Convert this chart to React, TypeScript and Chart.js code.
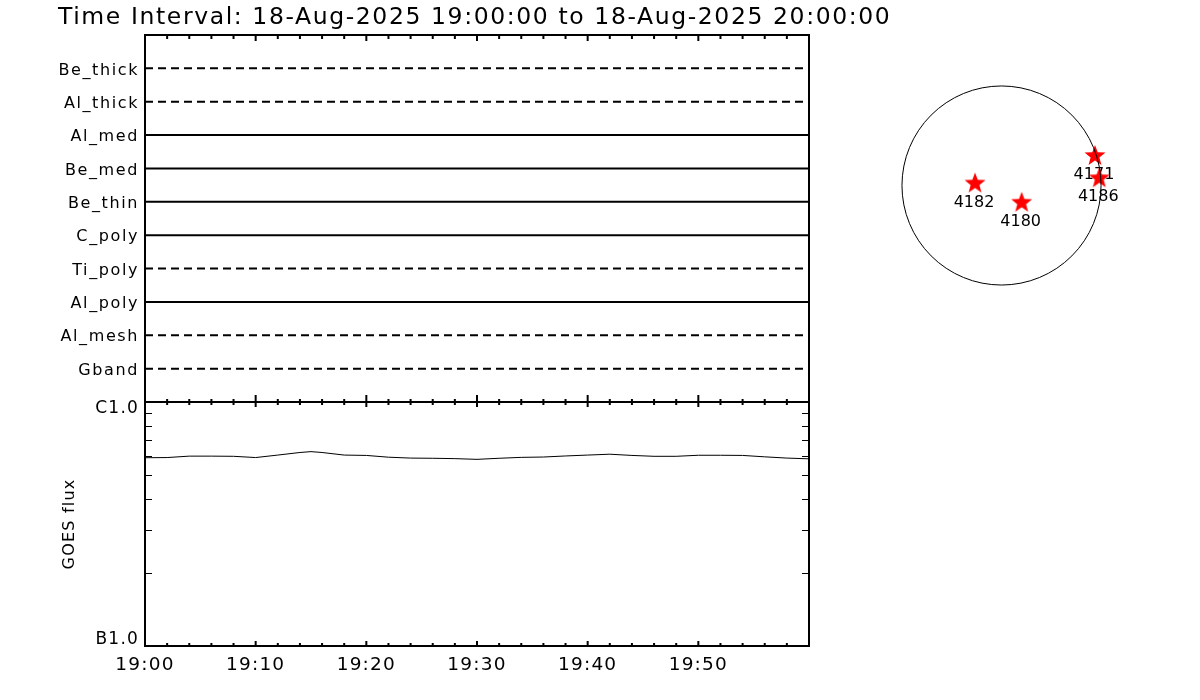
import React, { useEffect, useRef } from 'react';
import { Chart, registerables } from 'chart.js';

Chart.register(...registerables);

const FONT = '"DejaVu Sans ExtraLight", "DejaVu Sans", "Liberation Sans", sans-serif';

const TITLE = 'Time Interval: 18-Aug-2025 19:00:00 to 18-Aug-2025 20:00:00';

// Top panel channels (top to bottom)
const channels = ['Be_thick', 'Al_thick', 'Al_med', 'Be_med', 'Be_thin', 'C_poly', 'Ti_poly', 'Al_poly', 'Al_mesh', 'Gband'];
const channelLevels = [10, 9, 8, 7, 6, 5, 4, 3, 2, 1];
const channelDashed = [true, true, false, false, false, false, true, false, true, true];
const channelTimes = [0, 60]; // minutes after 19:00

// GOES flux (W/m^2) vs minutes after 19:00
const goesMinutes = [0, 2, 4, 6, 8, 10, 12, 14, 15, 16, 18, 20, 22, 24, 26, 28, 30, 32, 34, 36, 38, 40, 42, 44, 46, 48, 50, 52, 54, 56, 58, 60];
const goesFlux = [
  5.91e-7, 5.92e-7, 6.0e-7, 6.0e-7, 5.99e-7, 5.92e-7, 6.06e-7, 6.21e-7, 6.26e-7, 6.21e-7,
  6.06e-7, 6.04e-7, 5.94e-7, 5.89e-7, 5.88e-7, 5.86e-7, 5.82e-7, 5.88e-7, 5.93e-7, 5.95e-7,
  6.01e-7, 6.06e-7, 6.11e-7, 6.04e-7, 5.99e-7, 5.99e-7, 6.05e-7, 6.05e-7, 6.04e-7, 5.96e-7,
  5.89e-7, 5.85e-7,
];

// Axis ticks
const xTickMinutes = [0, 10, 20, 30, 40, 50];
const xTickLabels = ['19:00', '19:10', '19:20', '19:30', '19:40', '19:50'];
const xMajorTicks = [0, 10, 20, 30, 40, 50, 60];
const xMinorTicks = [2, 4, 6, 8, 12, 14, 16, 18, 22, 24, 26, 28, 32, 34, 36, 38, 42, 44, 46, 48, 52, 54, 56, 58];
const yTickValues = [1e-7, 1e-6];
const yTickLabels = ['B1.0', 'C1.0'];
const yMinorTicks = [2e-7, 3e-7, 4e-7, 5e-7, 6e-7, 7e-7, 8e-7, 9e-7];

// Active regions on the solar disk (arcsec)
const regionLabels = ['4182', '4180', '4171', '4186'];
const regionX = [-252, 192, 890, 931];
const regionY = [19, -164, 281, 69];
const solarRadius = 948;
const diskRange = [-1000, 1000];

function makeStar(R: number, innerRatio: number, color: string) {
  const size = Math.ceil(2 * R + 2);
  const c = document.createElement('canvas');
  c.width = size;
  c.height = size;
  const g = c.getContext('2d')!;
  g.fillStyle = color;
  g.beginPath();
  for (let k = 0; k < 10; k++) {
    const r = k % 2 ? innerRatio * R : R;
    const a = -Math.PI / 2 + (k * Math.PI) / 5;
    g.lineTo(size / 2 + r * Math.cos(a), size / 2 + r * Math.sin(a));
  }
  g.closePath();
  g.fill();
  return c;
}

const spacing = (px: number) => ({
  id: 'letterSpacing',
  beforeDraw(chart: any) {
    (chart.ctx as any).letterSpacing = px + 'px';
  },
});

export default function App() {
  const topRef = useRef<HTMLCanvasElement>(null);
  const goesRef = useRef<HTMLCanvasElement>(null);
  const sunRef = useRef<HTMLCanvasElement>(null);

  useEffect(() => {
    const charts: Chart[] = [];

    // ---------- Top panel ----------
    const topFrame = {
      id: 'topFrame',
      afterDraw(chart: any) {
        const { ctx, chartArea: a } = chart;
        const x = chart.scales.x;
        ctx.save();
        ctx.setLineDash([]);
        ctx.strokeStyle = '#000';
        ctx.lineWidth = 2;
        ctx.strokeRect(a.left, a.top, a.right - a.left, a.bottom - a.top);
        ctx.beginPath();
        for (const m of xMajorTicks) {
          const px = x.getPixelForValue(m);
          ctx.moveTo(px, a.top);
          ctx.lineTo(px, a.top + 6);
          ctx.moveTo(px, a.bottom);
          ctx.lineTo(px, a.bottom - 7);
        }
        for (const m of xMinorTicks) {
          const px = x.getPixelForValue(m);
          ctx.moveTo(px, a.top);
          ctx.lineTo(px, a.top + 4);
          ctx.moveTo(px, a.bottom);
          ctx.lineTo(px, a.bottom - 3);
        }
        ctx.stroke();
        // title
        ctx.font = `23.5px ${FONT}`;
        ctx.fillStyle = '#000';
        ctx.textAlign = 'left';
        ctx.textBaseline = 'alphabetic';
        ctx.fillText(TITLE, 58, 24);
        ctx.restore();
      },
    };

    charts.push(
      new Chart(topRef.current!, {
        type: 'line',
        data: {
          datasets: channels.map((name, i) => ({
            label: name,
            data: channelTimes.map((t) => ({ x: t, y: channelLevels[i] })),
            borderColor: '#000',
            borderWidth: 2,
            borderDash: channelDashed[i] ? [8, 5] : [],
            pointRadius: 0,
            fill: false,
          })),
        },
        options: {
          responsive: false,
          animation: false,
          devicePixelRatio: 1,
          events: [],
          layout: { padding: { left: 0, top: 35, right: 391, bottom: 298 } },
          plugins: { legend: { display: false }, tooltip: { enabled: false }, title: { display: false } },
          scales: {
            x: { type: 'linear', display: false, min: 0, max: 60 },
            y: {
              type: 'linear',
              min: 0,
              max: 11,
              grid: { display: false, drawTicks: false },
              border: { display: false },
              afterBuildTicks: (s: any) => {
                s.ticks = channelLevels.map((v) => ({ value: v }));
              },
              afterFit: (s: any) => {
                s.width = 145;
              },
              ticks: {
                color: '#000',
                padding: 6,
                labelOffset: 2,
                autoSkip: false,
                font: { family: FONT, size: 16 },
                callback: (v: any) => channels[channelLevels.indexOf(v)] ?? '',
              },
            },
          },
        } as any,
        plugins: [spacing(1.6), topFrame],
      })
    );

    // ---------- GOES panel ----------
    const goesFrame = {
      id: 'goesFrame',
      afterDraw(chart: any) {
        const { ctx, chartArea: a } = chart;
        const x = chart.scales.x;
        const y = chart.scales.y;
        ctx.save();
        ctx.setLineDash([]);
        ctx.strokeStyle = '#000';
        ctx.lineWidth = 2;
        ctx.strokeRect(a.left, a.top, a.right - a.left, a.bottom - a.top);
        ctx.beginPath();
        for (const m of xMajorTicks) {
          const px = x.getPixelForValue(m);
          ctx.moveTo(px, a.top);
          ctx.lineTo(px, a.top + 5);
          ctx.moveTo(px, a.bottom);
          ctx.lineTo(px, a.bottom - 5);
        }
        for (const m of xMinorTicks) {
          const px = x.getPixelForValue(m);
          ctx.moveTo(px, a.top);
          ctx.lineTo(px, a.top + 3);
          ctx.moveTo(px, a.bottom);
          ctx.lineTo(px, a.bottom - 3);
        }
        ctx.stroke();
        ctx.lineWidth = 1;
        ctx.beginPath();
        for (const v of yMinorTicks) {
          const py = Math.round(y.getPixelForValue(v)) + 0.5;
          ctx.moveTo(a.left, py);
          ctx.lineTo(a.left + 7, py);
          ctx.moveTo(a.right, py);
          ctx.lineTo(a.right - 7, py);
        }
        ctx.stroke();
        ctx.restore();
      },
    };

    charts.push(
      new Chart(goesRef.current!, {
        type: 'line',
        data: {
          datasets: [
            {
              label: 'GOES flux',
              data: goesMinutes.map((m, i) => ({ x: m, y: goesFlux[i] })),
              borderColor: '#000',
              borderWidth: 1,
              pointRadius: 0,
              tension: 0,
              fill: false,
            },
          ],
        },
        options: {
          responsive: false,
          animation: false,
          devicePixelRatio: 1,
          events: [],
          layout: { padding: { left: 0, top: 402, right: 391, bottom: 0 } },
          plugins: { legend: { display: false }, tooltip: { enabled: false } },
          scales: {
            x: {
              type: 'linear',
              min: 0,
              max: 60,
              grid: { display: false, drawTicks: false },
              border: { display: false },
              afterBuildTicks: (s: any) => {
                s.ticks = xTickMinutes.map((v) => ({ value: v }));
              },
              afterFit: (s: any) => {
                s.height = 54;
              },
              ticks: {
                color: '#000',
                padding: 8,
                autoSkip: false,
                maxRotation: 0,
                font: { family: FONT, size: 18.5 },
                callback: (v: any) => xTickLabels[xTickMinutes.indexOf(v)] ?? '',
              },
            },
            y: {
              type: 'logarithmic',
              min: 1e-7,
              max: 1e-6,
              grid: { display: false, drawTicks: false },
              border: { display: false },
              afterBuildTicks: (s: any) => {
                s.ticks = yTickValues.map((v) => ({ value: v }));
              },
              afterFit: (s: any) => {
                s.width = 145;
              },
              title: {
                display: true,
                text: 'GOES flux',
                color: '#000',
                font: { family: FONT, size: 16 },
                padding: { top: 60, bottom: 0 },
              },
              ticks: {
                color: '#000',
                padding: 6,
                autoSkip: false,
                font: { family: FONT, size: 17, lineHeight: '13px' },
                callback: (v: any) => {
                  const i = yTickValues.findIndex((t) => Math.abs(t - v) / t < 1e-6);
                  if (i < 0) return '';
                  return i === 0 ? [yTickLabels[i], ''] : ['', yTickLabels[i]];
                },
              },
            },
          },
        } as any,
        plugins: [spacing(1.2), goesFrame],
      })
    );

    // ---------- Solar disk ----------
    const star = makeStar(11, 0.42, '#ff0000');
    const diskPlugin = {
      id: 'disk',
      afterDatasetDraw(chart: any, args: any) {
        const i = args.index;
        const { ctx } = chart;
        const px = chart.scales.x.getPixelForValue(regionX[i]);
        const py = chart.scales.y.getPixelForValue(regionY[i]);
        ctx.save();
        ctx.font = `16px ${FONT}`;
        ctx.fillStyle = '#000';
        ctx.textAlign = 'center';
        ctx.textBaseline = 'middle';
        ctx.fillText(regionLabels[i], px - 1, py + 19);
        ctx.restore();
      },
      afterDatasetsDraw(chart: any) {
        const { ctx } = chart;
        const xs = chart.scales.x;
        const ys = chart.scales.y;
        const cx = xs.getPixelForValue(0);
        const cy = ys.getPixelForValue(0);
        const r = xs.getPixelForValue(solarRadius) - cx;
        ctx.save();
        ctx.strokeStyle = '#000';
        ctx.lineWidth = 1;
        ctx.beginPath();
        ctx.arc(cx, cy, r, 0, Math.PI * 2);
        ctx.stroke();
        ctx.restore();
      },
    };

    charts.push(
      new Chart(sunRef.current!, {
        type: 'scatter',
        data: {
          datasets: regionLabels.map((name, i) => ({
            label: name,
            data: [{ x: regionX[i], y: regionY[i] }],
            pointStyle: star,
            pointRadius: 11,
            order: regionLabels.length - i,
            clip: false,
          })),
        },
        options: {
          responsive: false,
          animation: false,
          devicePixelRatio: 1,
          events: [],
          layout: { padding: { left: 896.5, top: 80.5, right: 93.5, bottom: 409.5 } },
          plugins: { legend: { display: false }, tooltip: { enabled: false } },
          scales: {
            x: { type: 'linear', display: false, min: diskRange[0], max: diskRange[1] },
            y: { type: 'linear', display: false, min: diskRange[0], max: diskRange[1] },
          },
        } as any,
        plugins: [diskPlugin],
      })
    );

    return () => charts.forEach((c) => c.destroy());
  }, []);

  const cs: React.CSSProperties = { position: 'absolute', left: 0, top: 0 };
  return (
    <div style={{ position: 'fixed', left: 0, top: 0, width: 1200, height: 700, background: '#fff' }}>
      <canvas ref={topRef} width={1200} height={700} style={cs} />
      <canvas ref={goesRef} width={1200} height={700} style={cs} />
      <canvas ref={sunRef} width={1200} height={700} style={cs} />
    </div>
  );
}
